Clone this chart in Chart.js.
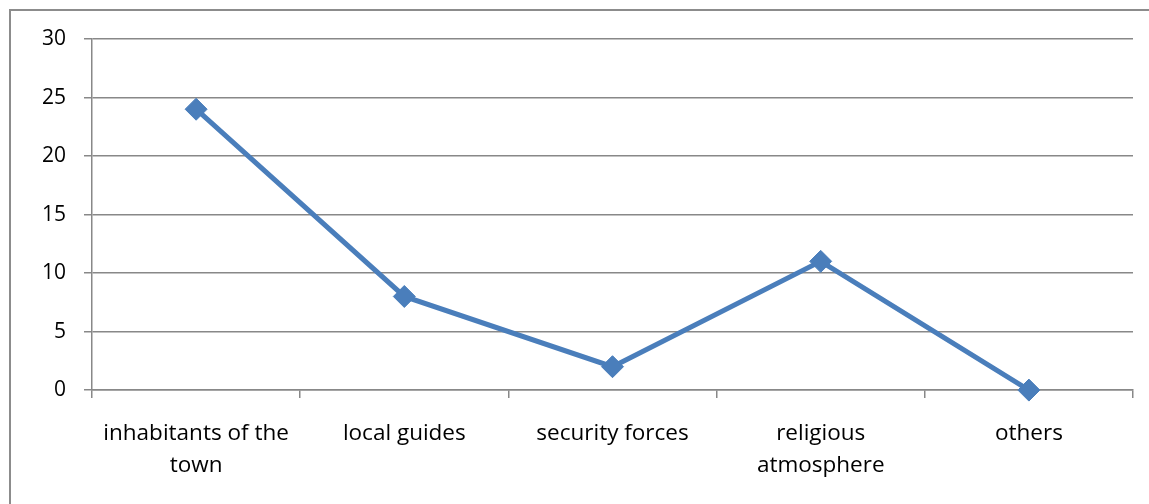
<!DOCTYPE html>
<html><head><meta charset="utf-8">
<script src="https://cdn.jsdelivr.net/npm/chart.js@4/dist/chart.umd.min.js"></script>
<style>html,body{margin:0;padding:0;background:#fff}#wrap{position:absolute;left:0;top:0;width:1149px;height:504px}</style>
</head><body><div id="wrap"><canvas id="c"></canvas></div>
<script>
const categories = [["inhabitants of the","town"],"local guides","security forces",["religious","atmosphere"],"others"];
const values = [24, 8, 2, 11, 0];
const yTicks = [0, 5, 10, 15, 20, 25, 30];

const frame = {
  id: 'frame',
  beforeDraw(chart) {
    const ctx = chart.ctx;
    ctx.save();
    ctx.strokeStyle = '#8c8c8c';
    ctx.lineWidth = 2;
    ctx.strokeRect(10, 10, 1160, 520);
    ctx.restore();
  }
};

new Chart(document.getElementById('c'), {
  type: 'line',
  data: { labels: categories, datasets: [{
    data: values,
    borderColor: '#4a7ebb',
    backgroundColor: '#4a7ebb',
    borderWidth: 5,
    pointStyle: 'rectRot',
    pointRadius: 11,
    pointHoverRadius: 11,
    pointBorderWidth: 1,
    clip: false,
    tension: 0
  }]},
  options: {
    responsive: true, maintainAspectRatio: false, animation: false,
    layout: { padding: { left: 24, top: 39, right: 16, bottom: 2 } },
    plugins: { legend: { display: false }, tooltip: { enabled: false } },
    scales: {
      x: {
        offset: true,
        grid: { offset: true, drawOnChartArea: false, color: '#888', tickLength: 8, lineWidth: 1.5 },
        border: { color: '#888', width: 1.5 },
        ticks: { color: '#000', font: { family: 'Open Sans', size: 22.5, lineHeight: 1.42 }, padding: 20, maxRotation: 0, autoSkip: false }
      },
      y: {
        min: 0, max: 30,
        afterBuildTicks(scale) { scale.ticks = yTicks.map(v => ({ value: v })); },
        grid: { color: '#888', tickLength: 8, lineWidth: 1.5 },
        border: { color: '#888', width: 1.5 },
        ticks: { color: '#000', font: { family: 'Open Sans', size: 21 }, padding: 18 }
      }
    }
  },
  plugins: [frame]
});
</script></body></html>
